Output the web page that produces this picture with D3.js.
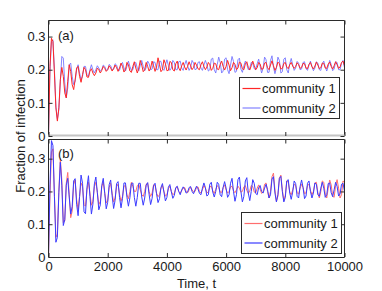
<!DOCTYPE html>
<html><head><meta charset="utf-8">
<script src="https://cdn.jsdelivr.net/npm/d3@7"></script>
<style>
body{margin:0;background:#fff}
svg{display:block;font-family:"Liberation Sans",Arial,Helvetica,sans-serif}
</style>
</head><body>
<svg id="chart" width="382" height="291"></svg>
<script>
// ---- data ----
const timeStep = 50;            // sampling interval of every series, t = index * 50
const xTickValues = [0, 2000, 4000, 6000, 8000, 10000];
const yTickValues = [0, 0.1, 0.2, 0.3];
const seriesNames = ["community 1", "community 2"];
const panelLabels = ["(a)", "(b)"];
const xLabel = "Time, t";
const yLabel = "Fraction of infection";

// panel (a)
const topC1 = [
0,0.21,0.295,0.285,0.19,0.085,0.045,0.085,0.17,0.207,0.18,0.13,0.115,0.165,0.215,0.195,0.155,0.14,0.17,0.205,0.21,0.18,0.162,0.185,0.207,0.2,0.178,0.177,0.196,0.203,0.19,
0.182,0.19,0.205,0.2,0.19,0.198,0.21,0.204,0.195,0.2,
0.212,0.205,0.196,0.203,0.214,0.206,0.195,0.205,0.22,0.21,
0.193,0.2,0.222,0.215,0.196,0.192,0.21,0.224,0.205,0.19,
0.205,0.228,0.214,0.194,0.2,0.222,0.21,0.196,0.205,0.226,
0.212,0.195,0.208,0.236,0.215,0.194,0.2,0.23,0.218,0.197,
0.198,0.225,0.222,0.2,0.196,0.218,0.226,0.205,0.197,0.212,
0.222,0.208,0.199,0.21,0.224,0.212,0.2,0.207,0.222,0.214,
0.203,0.2,0.215,0.224,0.21,0.2,0.208,0.222,0.215,0.198,
0.204,0.22,0.218,0.202,0.2,0.216,0.226,0.21,0.199,0.21,
0.228,0.214,0.197,0.206,0.222,0.216,0.2,0.205,0.223,0.22,
0.203,0.2,0.218,0.224,0.207,0.199,0.212,0.226,0.213,0.2,
0.206,0.222,0.217,0.201,0.203,0.22,0.222,0.206,0.2,0.214,
0.227,0.212,0.198,0.207,0.223,0.218,0.202,0.204,0.219,0.222,
0.208,0.203,0.215,0.222,0.211,0.204,0.21,0.221,0.215,0.204,
0.207,0.219,0.218,0.205,0.203,0.216,0.222,0.209,0.202,0.211,
0.223,0.214,0.203,0.206,0.22,0.219,0.205,0.204,0.217,0.223,
0.21,0.202,0.212,0.224,0.215,0.204,0.208,0.222,0.226,0.212
];
const topC2 = [
0,0.2,0.285,0.29,0.2,0.09,0.05,0.08,0.165,0.24,0.235,0.16,0.115,0.145,0.215,0.22,0.18,0.155,0.165,0.2,0.215,0.19,0.17,0.18,0.21,0.21,0.185,0.18,0.2,0.215,0.2,
0.19,0.2,0.212,0.205,0.196,0.2,0.214,0.21,0.198,0.2,
0.216,0.212,0.2,0.202,0.218,0.214,0.2,0.198,0.215,0.222,
0.205,0.196,0.21,0.226,0.21,0.198,0.2,0.218,0.222,0.204,
0.196,0.214,0.228,0.21,0.197,0.206,0.226,0.218,0.2,0.202,
0.224,0.222,0.2,0.2,0.226,0.225,0.203,0.198,0.215,0.23,
0.213,0.198,0.205,0.228,0.222,0.2,0.2,0.224,0.226,0.205,
0.198,0.215,0.228,0.212,0.198,0.206,0.228,0.22,0.2,0.202,
0.222,0.224,0.205,0.198,0.214,0.228,0.215,0.196,0.2,0.232,
0.235,0.2,0.19,0.215,0.238,0.222,0.19,0.196,0.232,0.236,
0.2,0.188,0.214,0.24,0.225,0.192,0.195,0.23,0.235,0.202,
0.192,0.212,0.226,0.216,0.2,0.205,0.222,0.22,0.203,0.2,
0.218,0.232,0.21,0.19,0.205,0.238,0.23,0.192,0.192,0.228,
0.242,0.208,0.188,0.205,0.238,0.228,0.19,0.194,0.232,0.236,
0.2,0.19,0.218,0.234,0.215,0.198,0.205,0.225,0.22,0.2,
0.202,0.222,0.224,0.203,0.198,0.214,0.226,0.21,0.197,0.205,
0.224,0.22,0.2,0.198,0.218,0.226,0.208,0.196,0.21,0.228,
0.216,0.197,0.202,0.224,0.222,0.2,0.2,0.22,0.228,0.206
];
// panel (b)
const botC1 = [
0,0.19,0.32,0.33,0.19,0.06,0.07,0.2,0.3,0.235,
0.105,0.11,0.225,0.258,0.19,0.12,0.14,0.222,0.235,0.175,
0.145,0.185,0.226,0.215,0.16,0.155,0.205,0.228,0.195,0.158,
0.17,0.215,0.228,0.198,0.16,0.17,0.215,0.228,0.196,0.165,
0.172,0.212,0.225,0.195,0.168,0.18,0.215,0.222,0.192,0.17,
0.185,0.216,0.218,0.19,0.178,0.2,0.228,0.215,0.2,0.2,
0.218,0.222,0.205,0.19,0.185,0.2,0.222,0.225,0.2,0.185,
0.195,0.22,0.218,0.195,0.184,0.19,0.21,0.218,0.2,0.186,
0.19,0.208,0.216,0.2,0.19,0.194,0.21,0.214,0.2,0.195,
0.202,0.21,0.212,0.2,0.196,0.205,0.213,0.205,0.198,0.2,
0.212,0.214,0.2,0.195,0.205,0.218,0.21,0.196,0.198,0.214,
0.216,0.202,0.194,0.206,0.218,0.212,0.198,0.197,0.212,0.22,
0.205,0.195,0.2,0.214,0.216,0.202,0.196,0.205,0.216,0.21,
0.198,0.2,0.214,0.218,0.203,0.194,0.202,0.218,0.215,0.198,
0.196,0.21,0.22,0.207,0.194,0.2,0.222,0.226,0.2,0.18,
0.2,0.245,0.256,0.205,0.17,0.185,0.24,0.25,0.205,0.172,
0.188,0.232,0.228,0.198,0.19,0.205,0.222,0.218,0.196,0.192,
0.21,0.222,0.212,0.193,0.196,0.218,0.222,0.203,0.19,0.2,
0.226,0.228,0.196,0.18,0.2,0.232,0.228,0.192,0.18,0.21,
0.235,0.22,0.186,0.182,0.218,0.236,0.21,0.18,0.19,0.232,
0.228
];
const botC2 = [
0,0.22,0.355,0.34,0.185,0.045,0.06,0.197,0.289,0.219,
0.096,0.114,0.219,0.24,0.183,0.131,0.154,0.232,0.239,0.161,
0.126,0.184,0.25,0.225,0.138,0.132,0.213,0.248,0.185,0.131,
0.161,0.223,0.244,0.196,0.144,0.159,0.218,0.24,0.194,0.147,
0.167,0.221,0.235,0.187,0.148,0.173,0.224,0.23,0.182,0.15,
0.179,0.226,0.226,0.182,0.155,0.181,0.224,0.226,0.182,0.155,
0.182,0.225,0.225,0.183,0.158,0.18,0.219,0.227,0.19,0.16,
0.179,0.218,0.225,0.193,0.166,0.178,0.212,0.224,0.198,0.171,
0.182,0.213,0.221,0.199,0.179,0.188,0.212,0.216,0.2,0.19,
0.205,0.214,0.207,0.195,0.198,0.212,0.215,0.2,0.193,0.205,
0.216,0.208,0.194,0.19,0.21,0.226,0.212,0.186,0.19,0.222,
0.228,0.198,0.183,0.2,0.228,0.222,0.19,0.184,0.212,0.23,
0.21,0.182,0.19,0.225,0.24,0.2,0.17,0.19,0.236,0.244,
0.2,0.168,0.185,0.232,0.242,0.195,0.172,0.2,0.236,0.225,
0.194,0.19,0.212,0.218,0.2,0.195,0.21,0.222,0.205,0.18,
0.19,0.238,0.245,0.195,0.168,0.19,0.24,0.246,0.2,0.168,
0.182,0.232,0.236,0.195,0.176,0.198,0.232,0.224,0.185,0.18,
0.215,0.235,0.212,0.178,0.186,0.225,0.232,0.2,0.18,0.195,
0.226,0.222,0.19,0.185,0.21,0.228,0.21,0.182,0.19,0.224,
0.226,0.196,0.184,0.205,0.228,0.215,0.186,0.192,0.222,0.225,
0.2
];

// ---- drawing ----
const svg = d3.select("#chart");
const frameColor = "#2b2b2b";
const textColor = "#1a1a1a";
const x = d3.scaleLinear().domain([0, 10000]).range([48.5, 344.5]);

const panels = [
  { y: d3.scaleLinear().domain([0, 0.35]).range([136, 20]), top: 20.5, bottom: 136,
    series: [
      { data: topC2, color: "#6f6fff", width: 0.85, name: seriesNames[1] },
      { data: topC1, color: "#ff2626", width: 1.0, name: seriesNames[0] }
    ],
    legend: { x: 239.5, y: 77.5, w: 100, h: 41 },
    label: panelLabels[0], labelY: 40, xLabels: false },
  { y: d3.scaleLinear().domain([0, 0.36]).range([257, 139]), top: 139.5, bottom: 257,
    series: [
      { data: botC1, color: "#ff6e6e", width: 1.0, name: seriesNames[0] },
      { data: botC2, color: "#3b3bff", width: 1.0, name: seriesNames[1] }
    ],
    legend: { x: 241.5, y: 212.5, w: 100, h: 41 },
    label: panelLabels[1], labelY: 158, xLabels: true }
];

panels.forEach((p, pi) => {
  const g = svg.append("g");
  // data lines
  p.series.forEach(s => {
    const line = d3.line().x((d, i) => x(i * timeStep)).y(d => p.y(d));
    g.append("path").datum(s.data)
      .attr("fill", "none").attr("stroke", s.color)
      .attr("stroke-width", s.width).attr("stroke-linejoin", "round")
      .attr("d", line);
  });

  // frame
  g.append("line").attr("x1", x(0)).attr("x2", x(0)).attr("y1", p.top).attr("y2", p.bottom)
    .attr("stroke", frameColor);
  g.append("line").attr("x1", x(10000)).attr("x2", x(10000)).attr("y1", p.top).attr("y2", p.bottom)
    .attr("stroke", frameColor);
  g.append("line").attr("x1", x(0)).attr("x2", x(10000)).attr("y1", p.top).attr("y2", p.top)
    .attr("stroke", frameColor);
  if (pi === 0) {
    g.append("line").attr("x1", x(0) - 0.5).attr("x2", x(10000) + 0.5).attr("y1", 135.5).attr("y2", 135.5)
      .attr("stroke", "#c4c4c4").attr("stroke-width", 2);
  } else {
    g.append("line").attr("x1", x(0)).attr("x2", x(10000)).attr("y1", p.bottom + 0.5).attr("y2", p.bottom + 0.5)
      .attr("stroke", frameColor);
  }

  // axes (inward ticks)
  const styleAxis = sel => {
    sel.select(".domain").remove();
    sel.selectAll("line").attr("stroke", frameColor);
    sel.selectAll("text").attr("fill", textColor).style("font-size", "13px")
      .style("font-family", '"Liberation Sans",Arial,Helvetica,sans-serif');
  };
  g.append("g").attr("transform", `translate(${x(0)},0)`)
    .call(d3.axisLeft(p.y).tickValues(yTickValues).tickSizeInner(-4).tickSizeOuter(0).tickPadding(3)
      .tickFormat(d => d === 0 ? "0" : d3.format(".1f")(d)))
    .call(styleAxis);
  g.append("g").attr("transform", `translate(${x(10000)},0)`)
    .call(d3.axisRight(p.y).tickValues(yTickValues).tickSizeInner(-4).tickSizeOuter(0).tickFormat(""))
    .call(styleAxis);
  g.append("g").attr("transform", `translate(0,${p.bottom})`)
    .call(d3.axisBottom(x).tickValues(xTickValues).tickSizeInner(-4).tickSizeOuter(0).tickPadding(4.5)
      .tickFormat(p.xLabels ? d3.format("d") : ""))
    .call(styleAxis);
  g.append("g").attr("transform", `translate(0,${p.top})`)
    .call(d3.axisTop(x).tickValues(xTickValues).tickSizeInner(-4).tickSizeOuter(0).tickFormat(""))
    .call(styleAxis);

  // panel label
  g.append("text").attr("x", 58).attr("y", p.labelY).attr("font-size", 13).attr("fill", textColor)
    .text(p.label);

  // legend
  const L = p.legend;
  const lg = g.append("g");
  lg.append("rect").attr("x", L.x).attr("y", L.y).attr("width", L.w).attr("height", L.h)
    .attr("fill", "#fff").attr("stroke", frameColor);
  const bySeries = {};
  p.series.forEach(s => bySeries[s.name] = s);
  [0, 1].forEach(k => {
    const s = bySeries[seriesNames[k]];
    const cy = L.y + 11 + k * 19.5;
    lg.append("line").attr("x1", L.x + 3).attr("x2", L.x + 21).attr("y1", cy).attr("y2", cy)
      .attr("stroke", s.color).attr("stroke-width", s.width + 0.2);
    lg.append("text").attr("x", L.x + 22.5).attr("y", cy + 4.5).attr("font-size", 13).attr("fill", textColor)
      .text(s.name);
  });
});

// axis titles
svg.append("text").attr("x", (x(0) + x(10000)) / 2).attr("y", 287.5).attr("text-anchor", "middle")
  .attr("font-size", 13).attr("fill", textColor).text(xLabel);
svg.append("text").attr("transform", "translate(24.5,136) rotate(-90)").attr("text-anchor", "middle")
  .attr("font-size", 13).attr("fill", textColor).text(yLabel);
</script>
</body></html>
